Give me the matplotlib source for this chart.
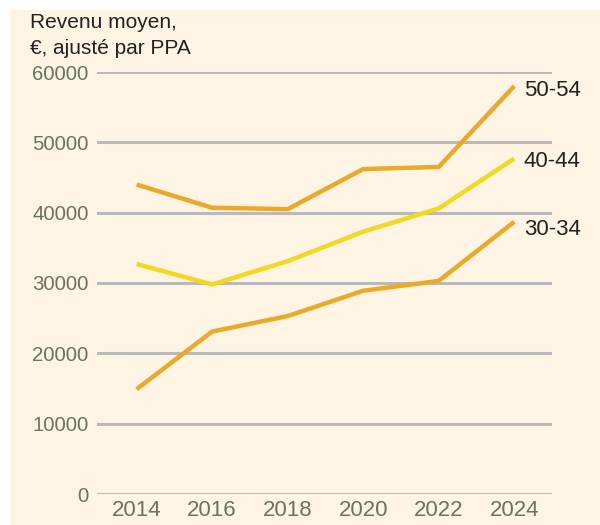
import matplotlib.pyplot as plt

plt.rcParams['font.family'] = ['Liberation Sans', 'DejaVu Sans']

years = [2014, 2016, 2018, 2020, 2022, 2024]
age_50_54 = [44000, 40700, 40500, 46200, 46500, 58000]
age_40_44 = [32700, 29800, 33100, 37300, 40600, 47700]
age_30_34 = [14900, 23100, 25300, 28900, 30300, 38700]

series = [
    ('50-54', age_50_54, '#EAA92B'),
    ('40-44', age_40_44, '#F3D821'),
    ('30-34', age_30_34, '#EAA92B'),
]
# nudge the end labels a little below the last point
label_shift = {'50-54': -570, '40-44': -430, '30-34': -1140}

cream = '#FDF4E3'
tick_color = '#6B7262'

fig = plt.figure(figsize=(6, 5.25), dpi=100)
fig.patch.set_facecolor('white')
# cream panel behind the chart
bg = fig.add_axes([10 / 600, 0, 1, 1 - 10 / 525], zorder=-10)
bg.set_facecolor(cream)
bg.axis('off')
bg.add_patch(plt.Rectangle((0, 0), 1, 1, transform=bg.transAxes, facecolor=cream, edgecolor='none'))

ax = fig.add_axes([97 / 600, 1 - 494 / 525, 455 / 600, 422 / 525])
ax.set_facecolor('none')

for label, values, color in series:
    ax.plot(years, values, color=color, lw=3.2, solid_capstyle='butt', clip_on=False, zorder=3)
    ax.text(years[-1] + 0.25, values[-1] + label_shift[label], label, fontsize=16,
            color='#222222', va='center', ha='left')

ax.set_xlim(2012.95, 2025)
ax.set_ylim(0, 60000)
ax.set_yticks(range(0, 60001, 10000))
ax.set_xticks(years)
ax.grid(axis='y', color='#BABABC', lw=2.2)
ax.set_axisbelow(True)
ax.tick_params(axis='both', length=0, colors=tick_color)
ax.tick_params(axis='y', pad=6, labelsize=14.7)
ax.tick_params(axis='x', pad=4.5, labelsize=16)
for spine in ax.spines.values():
    spine.set_visible(False)

fig.text(30 / 600, 1 - 22 / 525, 'Revenu moyen,', fontsize=15, color='#222222', va='center')
fig.text(30 / 600, 1 - 48 / 525, '€, ajusté par PPA', fontsize=15, color='#222222', va='center')

fig.savefig('out.png', dpi=100)
